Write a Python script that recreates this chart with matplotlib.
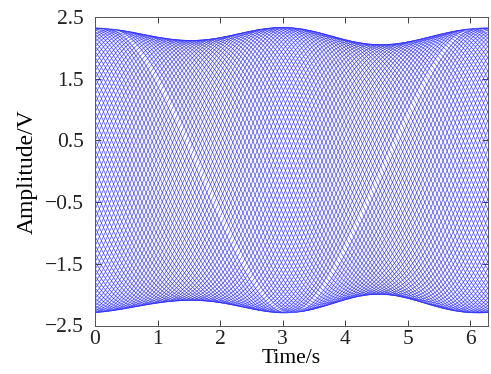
import numpy as np
import matplotlib
matplotlib.use("Agg")
import matplotlib.pyplot as plt

plt.rcParams['font.family'] = ['Liberation Serif', 'DejaVu Serif']

# envelope of the signal (time in s, amplitude in V)
env_t = [0.0, 0.5, 1.0, 1.5, 2.05, 2.6, 3.05, 3.65, 4.2, 4.6, 5.0, 5.5, 5.9, 6.2832]
env_top = [2.32, 2.28, 2.18, 2.11, 2.19, 2.29, 2.33, 2.23, 2.10, 2.04, 2.10, 2.23, 2.29, 2.32]
env_bot = [-2.29, -2.24, -2.13, -2.09, -2.15, -2.25, -2.29, -2.20, -2.04, -1.98, -2.07, -2.22, -2.27, -2.29]

# the mesh: many overlaid traces with spread phases, a wider gap at one phase
n_traces = 90
omega = 1.08          # rad/s
gap_phase = -omega * np.pi - np.pi / 2
gap_width = 1.8       # in units of the normal phase step

xticks = [0, 1, 2, 3, 4, 5, 6]
yticks = [-2.5, -1.5, -0.5, 0.5, 1.5, 2.5]
ytick_labels = ['\u22122.5', '\u22121.5', '\u22120.5', '0.5', '1.5', '2.5']


def smooth_env(tk, vk, t, nh=3):
    # low order periodic fit through the read-off envelope points
    tk = np.asarray(tk)
    cols = [np.ones_like(tk)]
    for k in range(1, nh + 1):
        cols += [np.cos(k * tk), np.sin(k * tk)]
    coef = np.linalg.lstsq(np.column_stack(cols), np.asarray(vk), rcond=None)[0]
    out = coef[0] * np.ones_like(t)
    for k in range(1, nh + 1):
        out += coef[2 * k - 1] * np.cos(k * t) + coef[2 * k] * np.sin(k * t)
    return out


t = np.linspace(0, 2 * np.pi, 1200)
top = smooth_env(env_t, env_top, t)
bot = smooth_env(env_t, env_bot, t)
mid = (top + bot) / 2
half = (top - bot) / 2

step = 2 * np.pi / (n_traces - 2 + gap_width)
phases = gap_phase + step * (np.arange(n_traces - 1) + gap_width / 2)

fig = plt.figure(figsize=(4.91, 3.74), dpi=100)
ax = fig.add_axes([95 / 491, 1 - 325.5 / 374, 393 / 491, 308.5 / 374])
for ph in phases:
    ax.plot(t, mid + half * np.sin(omega * t + ph), color='#2828ff', lw=0.42)

ax.set_xlim(0, 2 * np.pi)
ax.set_ylim(-2.5, 2.5)
ax.set_xticks(xticks)
ax.set_yticks(yticks)
ax.set_yticklabels(ytick_labels)
ax.tick_params(direction='in', top=True, right=True, length=4, width=0.6,
               labelsize=15.5, colors='#222222')
ax.tick_params(axis='x', pad=3)
ax.tick_params(axis='y', pad=8)
for s in ax.spines.values():
    s.set_linewidth(0.7)
    s.set_color('#555555')
ax.set_xlabel('Time/s', fontsize=15.5, labelpad=0)
ax.set_ylabel('Amplitude/V', fontsize=17, labelpad=5)

fig.savefig('out.png', dpi=100)
